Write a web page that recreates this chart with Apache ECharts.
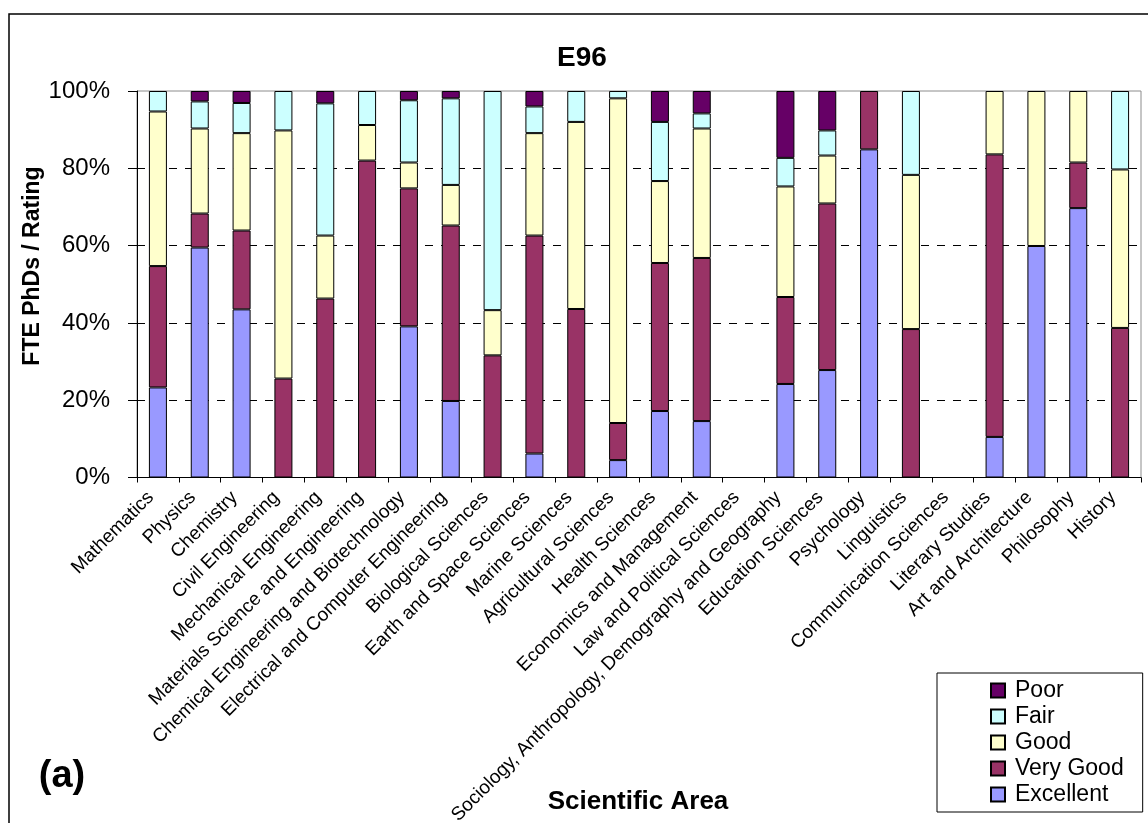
<!DOCTYPE html>
<html>
<head>
<meta charset="utf-8">
<script src="https://cdn.jsdelivr.net/npm/echarts@6/dist/echarts.min.js"></script>
<style>
html,body{margin:0;padding:0;background:#fff;}
#chart{width:1148px;height:823px;}
</style>
</head>
<body>
<div id="chart"></div>
<script>
const categories = ["Mathematics","Physics","Chemistry","Civil Engineering","Mechanical Engineering","Materials Science and Engineering","Chemical Engineering and Biotechnology","Electrical and Computer Engineering","Biological Sciences","Earth and Space Sciences","Marine Sciences","Agricultural Sciences","Health Sciences","Economics and Management","Law and Political Sciences","Sociology, Anthropology, Demography and Geography","Education Sciences","Psychology","Linguistics","Communication Sciences","Literary Studies","Art and Architecture","Philosophy","History"];
const excellent = [23.3,59.5,43.5,0,0,0,39.1,19.8,0,6.2,0,4.5,17.2,14.6,0,24.2,27.8,84.9,0,0,10.5,59.9,69.7,0];
const veryGood  = [31.4,8.8,20.4,25.6,46.3,82,35.7,45.4,31.6,56.4,43.6,9.6,38.3,42.2,0,22.5,43.1,15.1,38.4,0,73.1,0,11.8,38.7];
const good      = [40,22,25.2,64.2,16.3,9.2,6.7,10.5,11.7,26.5,48.4,84,21.2,33.5,0,28.6,12.4,0,39.9,0,16.4,40.1,18.5,41];
const fair      = [5.3,7,7.8,10.2,34.2,8.8,16.1,22.4,56.7,6.9,8,1.9,15.3,3.9,0,7.4,6.5,0,21.7,0,0,0,0,20.3];
const poor      = [0,2.7,3.1,0,3.2,0,2.4,1.9,0,4.0,0,0,8.0,5.8,0,17.3,10.2,0,0,0,0,0,0,0];
const yTicks = [0,20,40,60,80,100];

const FONT = '"Liberation Sans", Arial, sans-serif';
const chart = echarts.init(document.getElementById('chart'), null, {renderer:'canvas'});

function mk(name, data, color){
  return {
    name: name, type: 'bar', stack: 'total', barWidth: 18,
    data: data.map(v => v === 0 ? null : v),
    itemStyle: {color: color, borderColor: '#000', borderWidth: 1},
    emphasis: {disabled: true}
  };
}

chart.setOption({
  backgroundColor: '#fff',
  animation: false,
  textStyle: {fontFamily: FONT},
  grid: {left: 137, right: 7, top: 91, bottom: 345.5, containLabel: false, outerBoundsMode: 'none', show: true, borderColor: '#8c8c8c', borderWidth: 1, backgroundColor: 'transparent'},
  legend: {
    orient: 'vertical', left: 937, top: 673,
    data: ['Poor','Fair','Good','Very Good','Excellent'],
    icon: 'rect',
    itemWidth: 14, itemHeight: 14, itemGap: 3,
    padding: [6, 19, 6, 53],
    borderColor: '#000', borderWidth: 1,
    textStyle: {fontFamily: FONT, fontSize: 23, color: '#000', lineHeight: 23, padding: [0, 0, 0, 5]},
    selectedMode: false
  },
  xAxis: {
    type: 'category', data: categories, boundaryGap: true,
    axisLine: {lineStyle: {color: '#000', width: 1}},
    axisTick: {show: true, length: 5, inside: false, lineStyle: {color: '#000'}},
    axisLabel: {interval: 0, rotate: 45, fontSize: 19, color: '#000', fontFamily: FONT, margin: 10, padding: [0, 10, 0, 0]}
  },
  yAxis: {
    type: 'value', min: yTicks[0], max: yTicks[yTicks.length-1], interval: 20,
    axisLine: {show: true, lineStyle: {color: '#000', width: 1}},
    axisTick: {show: true, length: 9, inside: false, lineStyle: {color: '#000'}},
    axisLabel: {formatter: '{value}%', fontSize: 24, color: '#000', fontFamily: FONT, margin: 27},
    splitLine: {show: true, showMinLine: false, showMaxLine: false, lineStyle: {color: '#000', type: [8, 8], width: 1}}
  },
  series: [
    mk('Excellent', excellent, '#9999FF'),
    mk('Very Good', veryGood, '#993366'),
    mk('Good', good, '#FFFFCC'),
    mk('Fair', fair, '#CCFFFF'),
    mk('Poor', poor, '#660066')
  ],
  graphic: [
    {type: 'rect', shape: {x: 9, y: 14, width: 1300, height: 1000}, style: {fill: 'none', stroke: '#000', lineWidth: 1.5}, silent: true, z: 100},
    {type: 'text', x: 582, y: 58, style: {text: 'E96', font: 'bold 28px ' + FONT, fill: '#000', align: 'center', verticalAlign: 'middle'}},
    {type: 'text', x: 33, y: 266, rotation: Math.PI/2, style: {text: 'FTE PhDs / Rating', font: 'bold 23px ' + FONT, fill: '#000', align: 'center', verticalAlign: 'middle'}},
    {type: 'text', x: 638, y: 802, style: {text: 'Scientific Area', font: 'bold 26px ' + FONT, fill: '#000', align: 'center', verticalAlign: 'middle'}},
    {type: 'text', x: 62, y: 777, style: {text: '(a)', font: 'bold 38px ' + FONT, fill: '#000', align: 'center', verticalAlign: 'middle'}}
  ]
});
</script>
</body>
</html>
